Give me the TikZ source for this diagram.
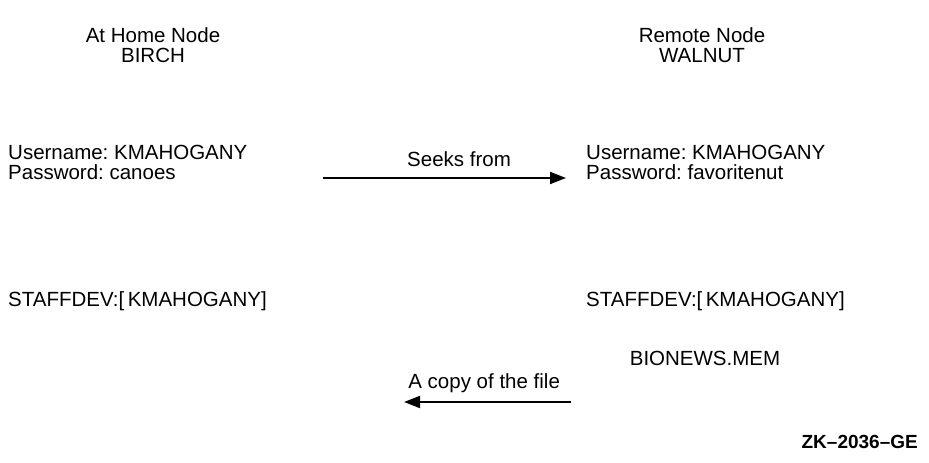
\documentclass[tikz,border=0pt]{standalone}
\usepackage{fontspec}
\setmainfont{Liberation Sans}
\usetikzlibrary{arrows.meta,positioning}

\begin{document}
\frenchspacing
\begin{tikzpicture}[x=1pt, y=-1pt,
  txt/.style={font=\fontsize{20.5}{20}\selectfont, inner sep=0pt},
  head/.style={txt, align=center, anchor=base},
  block/.style={txt, align=left, anchor=base west},
  link/.style={line width=1.8pt, -{Triangle[length=16pt, width=12pt]}}]
\useasboundingbox (0,0) rectangle (929,463);

% --- Home node (left) ---
\node[head] (home) at (153,62) {At Home Node\\BIRCH};
\node[block] (homeacct) at (8,179) {Username: KMAHOGANY\\Password: canoes};
\node[block] (homedir) at (8,306) {STAFFDEV:[\,KMAHOGANY]};

% --- Remote node (right) ---
\node[head] (remote) at (702,62) {Remote Node\\WALNUT};
\node[block] (remacct) at (586,179) {Username: KMAHOGANY\\Password: favoritenut};
\node[block] (remdir) at (586,306) {STAFFDEV:[\,KMAHOGANY]};
\node[head] (file) at (705,365) {BIONEWS.MEM};

% --- Transfers ---
\coordinate (seekA) at (323,178);
\coordinate (seekB) at (566,178);
\draw[link] (seekA) -- (seekB)
  node[txt, pos=0.56, above=10pt] (seeklbl) {Seeks from};
\coordinate (copyA) at (571,402);
\coordinate (copyB) at (404,402);
\draw[link] (copyA) -- (copyB)
  node[txt, pos=0.52, above=8pt] (copylbl) {A copy of the file};

% figure tag
\node[txt, font=\fontsize{19}{20}\selectfont\bfseries, anchor=base east] (tag) at (918,448) {ZK--2036--GE};
\end{tikzpicture}
\end{document}
